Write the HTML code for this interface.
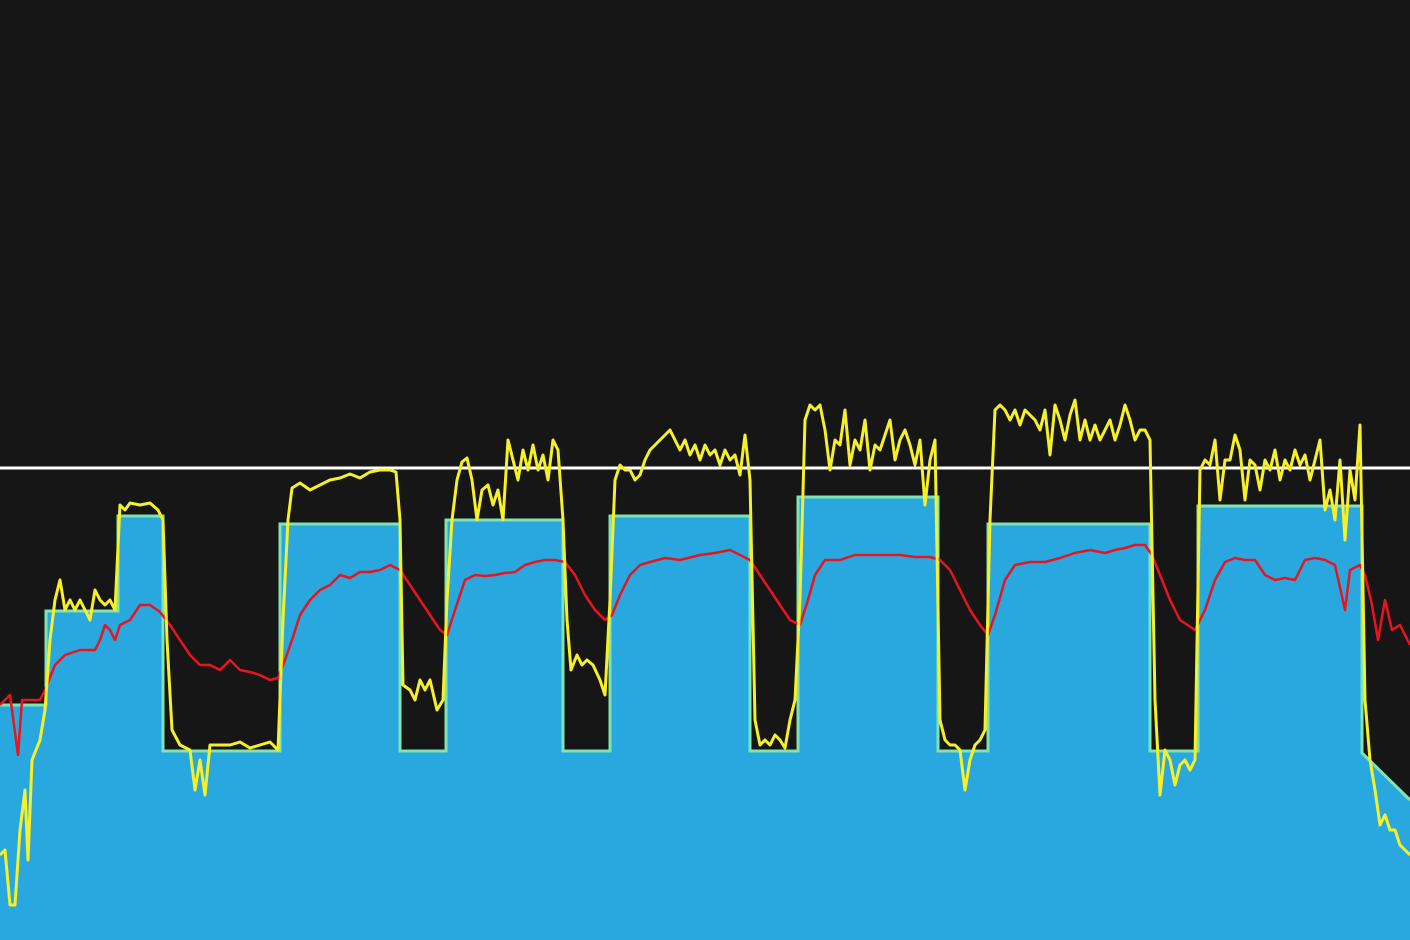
<!DOCTYPE html>
<html><head><meta charset="utf-8">
<style>
html,body{margin:0;padding:0;background:#161616;}
svg{display:block;}
</style></head>
<body>
<svg id="chart" width="1410" height="940" viewBox="0 0 1410 940" xmlns="http://www.w3.org/2000/svg">
<rect x="0" y="0" width="1410" height="940" fill="#161616"/>
</svg>
<script>
// Target power steps (time seconds, power units)
const stepStart = [0, 46, 118, 163, 280, 400, 446, 563, 610, 750, 798, 938, 988, 1150, 1198, 1362];
const stepEnd   = [46, 118, 163, 280, 400, 446, 563, 610, 750, 798, 938, 988, 1150, 1198, 1362, 1410];
const stepFrom  = [235, 329, 424, 189, 416, 189, 420, 189, 424, 189, 443, 189, 416, 189, 434, 187];
const stepTo    = [235, 329, 424, 189, 416, 189, 420, 189, 424, 189, 443, 189, 416, 189, 434, 140];
const thresholdValue = [472];

const powerT = [0,5,10,15,20,25,28,32,40,45,50,55,60,65,70,75,80,85,90,95,100,105,110,115,120,125,130,140,150,158,163,167,172,180,190,195,200,205,210,220,230,240,250,260,270,278,283,288,292,300,310,320,330,340,350,360,370,380,390,396,400,403,410,415,420,425,430,437,443,447,452,457,462,467,472,477,482,488,493,498,503,508,513,518,523,528,533,538,543,548,553,558,563,567,571,577,582,587,593,600,605,610,615,620,625,630,635,640,645,650,655,660,665,670,675,680,685,690,695,700,705,710,715,720,725,730,735,740,745,750,755,760,765,770,775,780,785,790,795,800,805,810,815,820,825,830,835,840,845,850,855,860,865,870,875,880,885,890,895,900,905,910,915,920,925,930,935,940,945,950,955,960,965,970,975,980,985,990,995,1000,1005,1010,1015,1020,1025,1030,1035,1040,1045,1050,1055,1060,1065,1070,1075,1080,1085,1090,1095,1100,1105,1110,1115,1120,1125,1130,1135,1140,1145,1150,1155,1160,1165,1170,1175,1180,1185,1190,1195,1200,1205,1210,1215,1220,1225,1230,1235,1240,1245,1250,1255,1260,1265,1270,1275,1280,1285,1290,1295,1300,1305,1310,1315,1320,1325,1330,1335,1340,1345,1350,1355,1360,1365,1370,1375,1380,1385,1390,1395,1400,1405,1410];
const powerV = [85,90,35,35,110,150,80,180,200,230,300,340,360,330,340,330,340,330,320,350,340,335,340,330,435,430,437,435,437,430,420,300,210,195,190,150,180,145,195,195,195,198,192,195,198,190,320,420,452,457,450,455,460,462,466,462,468,470,470,468,420,255,250,240,260,250,260,230,240,340,420,460,478,482,460,420,450,455,435,450,420,500,480,460,490,470,495,470,485,460,500,490,420,320,270,285,275,280,275,260,245,340,460,475,470,470,460,465,480,490,495,500,505,510,500,490,500,485,495,480,495,485,490,475,490,480,485,465,505,460,220,195,200,195,205,200,192,220,240,340,520,535,530,535,510,470,500,495,530,475,500,490,520,470,495,490,505,520,480,500,510,495,475,500,435,480,500,220,200,195,195,190,150,180,195,200,210,420,530,535,530,520,530,515,530,525,520,510,530,485,535,520,500,525,540,500,520,500,515,500,510,520,500,515,535,520,500,510,510,500,240,145,190,180,155,175,180,170,180,470,480,475,500,440,480,480,505,490,440,480,475,450,480,470,490,460,480,470,490,475,485,460,480,500,430,450,420,480,400,470,440,515,240,180,150,115,125,110,110,95,90,85];

const hrT = [0,10,18,22,30,40,45,55,65,80,95,100,105,110,115,120,130,140,150,160,170,180,190,200,210,220,230,240,250,260,270,278,285,292,300,310,320,330,340,350,360,370,380,390,400,410,420,430,440,447,455,465,475,485,495,505,515,525,535,545,555,565,575,585,595,605,612,620,630,640,650,665,680,700,715,730,740,750,760,770,780,790,800,808,815,825,840,855,870,885,900,915,930,940,950,960,970,980,988,995,1005,1015,1030,1045,1060,1075,1090,1105,1115,1125,1135,1145,1152,1160,1170,1180,1195,1205,1215,1225,1235,1245,1255,1265,1275,1285,1295,1305,1315,1325,1335,1345,1350,1360,1365,1372,1378,1385,1392,1400,1410];
const hrV = [235,245,185,240,240,240,250,275,285,290,290,300,315,310,300,315,320,335,335,328,315,300,285,275,275,270,280,270,268,265,260,262,280,300,325,340,350,355,365,362,368,368,370,375,370,355,340,325,310,305,330,360,365,364,365,367,368,375,378,380,380,378,365,345,330,320,325,345,365,375,378,382,380,385,387,390,385,380,365,350,335,320,315,340,365,380,380,385,385,385,385,383,383,380,370,350,330,315,305,325,360,375,378,378,382,387,390,387,390,392,395,395,385,365,340,320,310,330,360,378,382,380,380,365,360,362,360,380,382,380,375,330,370,375,365,335,300,340,310,315,295];

const svg = document.getElementById('chart');
const NS = 'http://www.w3.org/2000/svg';
const W = 1410, H = 940;
const xS = t => t * (W / 1410);
const yS = v => H - v;

function mk(tag, attrs){ const e = document.createElementNS(NS, tag); for (const k in attrs) e.setAttribute(k, attrs[k]); return e; }

// Target area
let d = `M${xS(stepStart[0])},${H}`;
let od = '';
for (let i = 0; i < stepStart.length; i++) {
  const a = `${xS(stepStart[i])},${yS(stepFrom[i])}`;
  const b = `${xS(stepEnd[i])},${yS(stepTo[i])}`;
  d += ` L${a} L${b}`;
  od += (i === 0 ? 'M' : ' L') + a + ' L' + b;
}
d += ` L${xS(stepEnd[stepEnd.length-1])},${H} Z`;
const area = mk('path', {d: d, fill: '#29a8df'});


svg.appendChild(area);
const outline = mk('path', {d: od, fill: 'none', stroke: '#7fe3b2', 'stroke-width': 3});


svg.appendChild(outline);

// Threshold line
const th = mk('line', {x1: 0, x2: W, y1: yS(thresholdValue[0]), y2: yS(thresholdValue[0]), stroke: '#ffffff', 'stroke-width': 3});


svg.appendChild(th);

function line(ts, vs, color, w, name){
  const pts = ts.map((t, i) => `${xS(t)},${yS(vs[i])}`).join(' ');
  const p = mk('polyline', {points: pts, fill: 'none', stroke: color, 'stroke-width': w, 'stroke-linejoin': 'round'});
  
  
  svg.appendChild(p);
}
line(hrT, hrV, '#e8141e', 2.5, 'heart-rate-line');
line(powerT, powerV, '#f5f02a', 3, 'power-line');
</script>
</body></html>
